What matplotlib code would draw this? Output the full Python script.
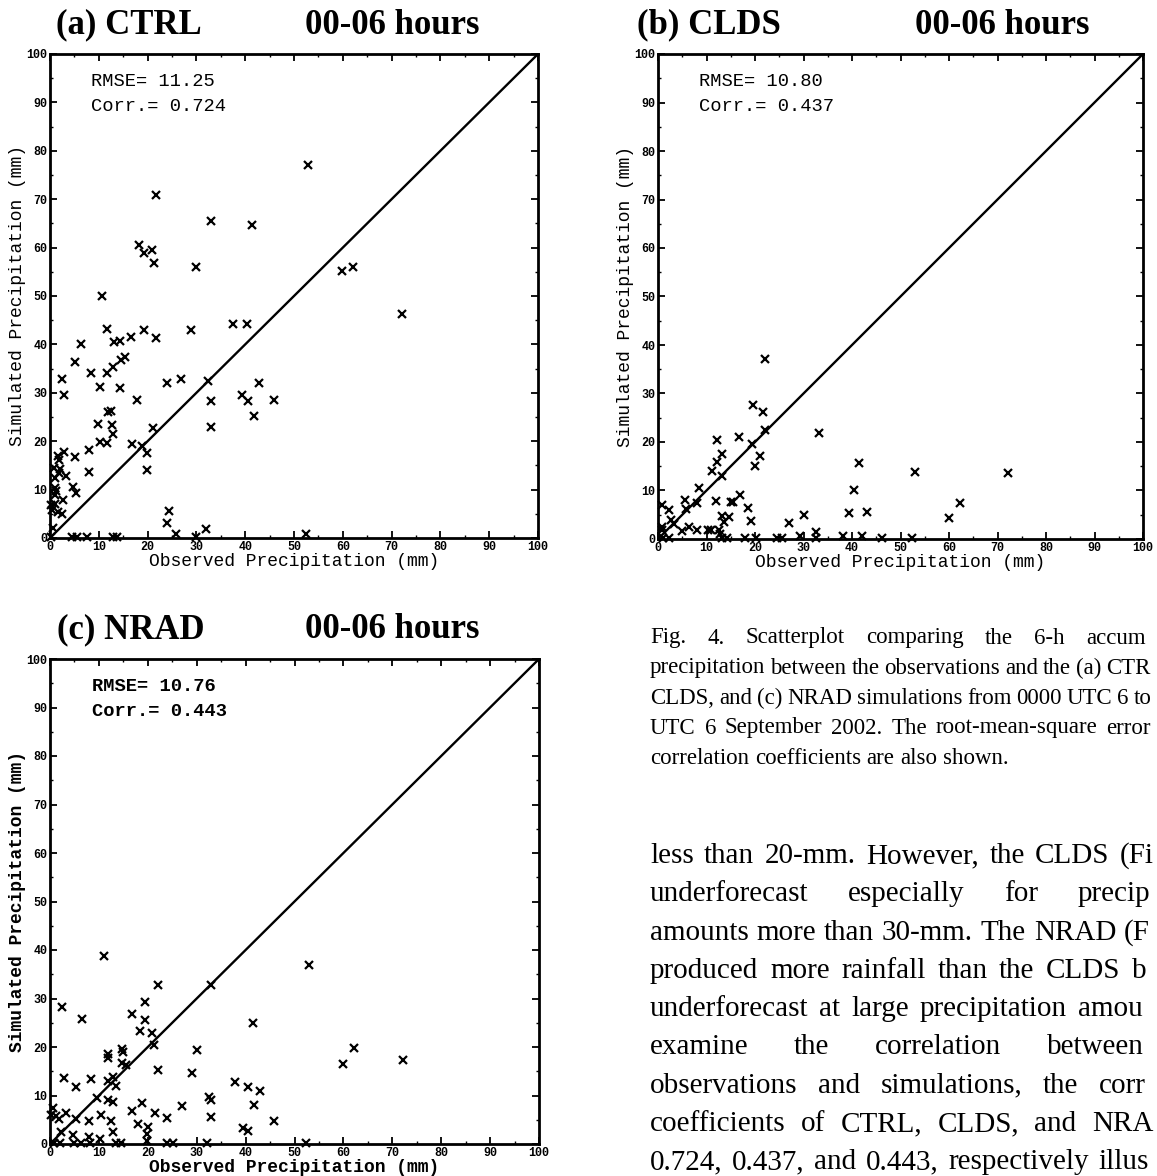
import matplotlib
matplotlib.use("Agg")
import matplotlib.pyplot as plt
from matplotlib.transforms import IdentityTransform

# (a) CTRL: observed vs simulated 6-h precipitation (mm)
ctrl_obs = [52.8, 21.8, 32.9, 41.4, 18.3, 19.3, 21.0, 21.3, 29.9, 59.9, 62.1, 10.7, 72.1, 37.6,
            40.4, 11.7, 19.2, 28.8, 21.8, 16.6, 14.3, 13.2, 6.3, 5.2, 15.4, 14.6, 12.9, 11.7,
            8.4, 2.4, 2.8, 10.2, 14.3, 23.9, 26.9, 32.4, 33.0, 17.9, 39.4, 40.6, 42.8, 45.8,
            41.8, 33.0, 11.8, 12.6, 9.9, 12.8, 12.9, 21.2, 10.2, 11.7, 16.8, 18.9, 19.9, 19.9,
            7.9, 7.9, 5.2, 2.8, 1.7, 1.8, 0.9, 2.0, 3.2, 1.1, 4.7, 5.3, 1.1, 1.1, 2.7, 1.1,
            0.3, 1.6, 2.4, 0.5, 0.6, 24.4, 23.9, 25.9, 31.9, 52.4, 1.9, 1.3,
            0.2, 4.6, 5.6, 7.5, 13.0, 13.7, 29.9]
ctrl_sim = [77.1, 70.9, 65.4, 64.6, 60.5, 58.9, 59.6, 56.8, 55.9, 55.1, 55.9, 50.0, 46.2, 44.3,
            44.3, 43.2, 42.9, 42.9, 41.4, 41.6, 40.7, 40.4, 40.1, 36.3, 37.5, 36.8, 35.4, 34.1,
            34.1, 32.9, 29.6, 31.2, 30.9, 32.0, 32.9, 32.5, 28.4, 28.6, 29.6, 28.4, 32.1, 28.6,
            25.3, 22.9, 26.1, 26.2, 23.6, 23.4, 21.4, 22.7, 19.9, 19.6, 19.5, 19.1, 17.5, 14.1,
            18.2, 13.6, 16.8, 17.7, 16.9, 16.2, 14.4, 14.3, 12.9, 12.5, 10.5, 9.3, 10.4, 8.9, 7.9, 7.1,
            6.8, 5.4, 5.0, 5.7, 2.1, 5.6, 3.2, 0.9, 1.9, 0.9, 13.5, 9.8,
            0.3, 0.3, 0.3, 0.3, 0.3, 0.3, 0.3]

# (b) CLDS
clds_obs = [22.0, 19.6, 21.6, 22.1, 33.1, 16.7, 12.1, 19.4, 12.1, 13.2, 21.1, 19.9, 11.1, 13.1,
            41.5, 53.0, 72.2, 8.5, 40.4, 17.0, 5.5, 8.1, 11.9, 15.0, 15.5, 62.3, 0.8, 2.2, 5.7,
            18.5, 39.4, 43.0, 13.2, 14.7, 13.6, 30.0, 19.1, 27.1, 60.1, 2.6, 3.3, 0.8, 6.4, 8.1,
            5.0, 0.9, 10.3, 11.0, 12.5, 12.8, 32.6, 29.3, 38.1, 42.0,
            1.1, 2.2, 13.2, 14.3, 17.9, 20.2, 24.5, 25.6, 32.6, 46.1, 52.4]
clds_sim = [37.1, 27.7, 26.1, 22.5, 21.8, 21.1, 20.4, 19.6, 15.9, 17.5, 17.1, 15.1, 14.1, 13.0,
            15.6, 13.8, 13.6, 10.6, 10.0, 9.1, 8.0, 7.5, 7.8, 7.7, 7.7, 7.4, 7.0, 5.9, 6.1,
            6.3, 5.4, 5.5, 4.8, 4.6, 3.6, 4.9, 3.8, 3.4, 4.3, 3.9, 3.0, 2.5, 2.5, 1.8,
            1.6, 1.8, 1.9, 1.9, 1.8, 1.1, 1.4, 0.6, 0.6, 0.6,
            0.3, 0.3, 0.3, 0.3, 0.3, 0.3, 0.3, 0.3, 0.3, 0.3, 0.3]

# (c) NRAD
nrad_obs = [11.0, 53.0, 22.1, 33.0, 19.4, 2.5, 6.5, 16.7, 19.4, 41.5, 18.4, 20.9, 21.3, 62.1,
            30.0, 14.7, 14.9, 11.9, 11.9, 72.2, 59.9, 14.7, 15.5, 22.0, 29.0, 2.9, 8.4, 12.9,
            11.8, 13.4, 5.3, 37.8, 40.4, 42.9, 9.7, 32.5, 33.0, 11.9, 12.9, 18.9, 41.8, 27.0,
            0.7, 16.8, 21.5, 3.3, 0.2, 1.2, 1.8, 10.4, 5.3, 33.0, 23.9, 45.8, 7.9, 12.5, 17.9,
            20.0, 39.5, 40.5, 12.9, 2.3, 4.8, 7.9, 10.3, 19.9, 19.9,
            0.9, 2.0, 5.0, 6.3, 8.2, 13.4, 14.5, 24.0, 25.1, 32.1, 52.4]
nrad_sim = [38.8, 37.0, 32.8, 32.8, 29.3, 28.3, 25.7, 26.8, 25.6, 25.0, 23.4, 22.8, 20.5, 19.7,
            19.4, 19.6, 19.0, 18.5, 17.8, 17.3, 16.4, 16.6, 16.2, 15.3, 14.6, 13.6, 13.5, 13.9,
            12.9, 12.0, 11.8, 12.8, 11.8, 10.9, 9.5, 9.7, 9.0, 9.0, 8.6, 8.5, 8.0, 7.8,
            7.4, 6.8, 6.3, 6.3, 6.0, 5.8, 5.1, 6.0, 5.1, 5.5, 5.4, 4.8, 4.7, 4.7, 4.1,
            3.5, 3.3, 2.7, 2.5, 2.5, 1.8, 1.4, 1.1, 2.1, 0.7,
            0.3, 0.3, 0.3, 0.3, 0.3, 0.3, 0.3, 0.3, 0.3, 0.3, 0.3]

panel_names = ["(a) CTRL", "(b) CLDS", "(c) NRAD"]
rmse_vals = ["11.25", "10.80", "10.76"]
corr_vals = ["0.724", "0.437", "0.443"]
ticks = [0, 10, 20, 30, 40, 50, 60, 70, 80, 90, 100]

caption_lines = [
    "Fig. 4. Scatterplot comparing the 6-h accumulated",
    "precipitation between the observations and the (a) CTRL, (b)",
    "CLDS, and (c) NRAD simulations from 0000 UTC 6 to 0600",
    "UTC 6 September 2002. The root-mean-square errors and",
    "correlation coefficients are also shown.",
]
body_lines = [
    "less than 20-mm. However, the CLDS (Fig. 4b)",
    "underforecast especially for precipitation",
    "amounts more than 30-mm. The NRAD (Fig. 4c)",
    "produced more rainfall than the CLDS but still",
    "underforecast at large precipitation amounts. To",
    "examine the correlation between the",
    "observations and simulations, the correlation",
    "coefficients of CTRL, CLDS, and NRAD are",
    "0.724, 0.437, and 0.443, respectively illustrating",
]

W, H = 1157, 1176
plt.rcParams['font.family'] = ['Liberation Mono', 'DejaVu Sans Mono']
fig = plt.figure(figsize=(W / 100, H / 100), dpi=100)
fig.patch.set_facecolor('white')

# axes boxes in image pixels: left, top, right, bottom
boxes = [(50, 54, 538, 538), (658, 54, 1143, 539), (50, 659, 539, 1144)]
title_pos = [(56, 25, 305), (637, 25, 915), (57, 630, 305)]
obs_sets = [ctrl_obs, clds_obs, nrad_obs]
sim_sets = [ctrl_sim, clds_sim, nrad_sim]
weights = ['normal', 'normal', 'bold']

for i in range(3):
    l, t, r, b = boxes[i]
    ax = fig.add_axes([l / W, 1 - b / H, (r - l) / W, (b - t) / H])
    ax.plot([0, 100], [0, 100], color='black', lw=1.7)
    ax.plot(obs_sets[i], sim_sets[i], linestyle='none', marker='x', ms=5.5,
            mew=1.6, color='black', clip_on=False)
    ax.set_xlim(0, 100)
    ax.set_ylim(0, 100)
    ax.set_xticks(ticks)
    ax.set_yticks(ticks)
    ax.set_xticks(range(5, 100, 10), minor=True)
    ax.set_yticks(range(5, 100, 10), minor=True)
    ax.tick_params(which='major', direction='in', length=5, width=1.3,
                   top=True, right=True, labelsize=8.5, pad=2)
    ax.tick_params(which='minor', direction='in', length=2, width=1,
                   top=True, right=True)
    for lab in ax.get_xticklabels() + ax.get_yticklabels():
        lab.set_fontweight('bold')
    for sp in ax.spines.values():
        sp.set_linewidth(2)
    ax.set_xlabel("Observed Precipitation (mm)", fontsize=13,
                  fontweight=weights[i], labelpad=0)
    ax.set_ylabel("Simulated Precipitation (mm)", fontsize=13,
                  fontweight=weights[i], labelpad=0)
    ax.text(8.5, 94.4, "RMSE= " + rmse_vals[i], fontsize=13.5, va='center',
            fontweight=weights[i])
    ax.text(8.5, 89.2, "Corr.= " + corr_vals[i], fontsize=13.5, va='center',
            fontweight=weights[i])
    x1, y, x2 = title_pos[i]
    fig.text(x1 / W, 1 - y / H, panel_names[i], family='Liberation Serif',
             fontweight='bold', fontsize=25, va='center', ha='left')
    fig.text(x2 / W, 1 - y / H, "00-06 hours", family='Liberation Serif',
             fontweight='bold', fontsize=25, va='center', ha='left')

# justified text column on the right, cropped at the page edge like the scan
renderer = fig.canvas.get_renderer()


def put_line(text, x0, y, size, width, justify):
    words = text.split()
    arts = [fig.text(0, 0, w, family='Liberation Serif', fontsize=size,
                     va='center', ha='left', transform=IdentityTransform())
            for w in words]
    widths = [a.get_window_extent(renderer).width for a in arts]
    if justify and len(words) > 1:
        gap = (width - sum(widths)) / (len(words) - 1)
    else:
        gap = 0.25 * size * 100 / 72
    x = x0
    for a, w, word in zip(arts, widths, words):
        a.set_position((x, H - y))
        # drop letters that would fall past the right edge of the page
        n = len(word)
        while n > 0 and a.get_window_extent(renderer).x1 > W - 1:
            n -= 1
            a.set_text(word[:n])
        x += w + gap


for k, line in enumerate(caption_lines):
    put_line(line, 650, 638 + 30 * k, 16.5, 552, k < len(caption_lines) - 1)

for k, line in enumerate(body_lines):
    put_line(line, 650, 856 + 38.3 * k, 21, 575, True)

fig.savefig("out.png", dpi=100, facecolor='white')
